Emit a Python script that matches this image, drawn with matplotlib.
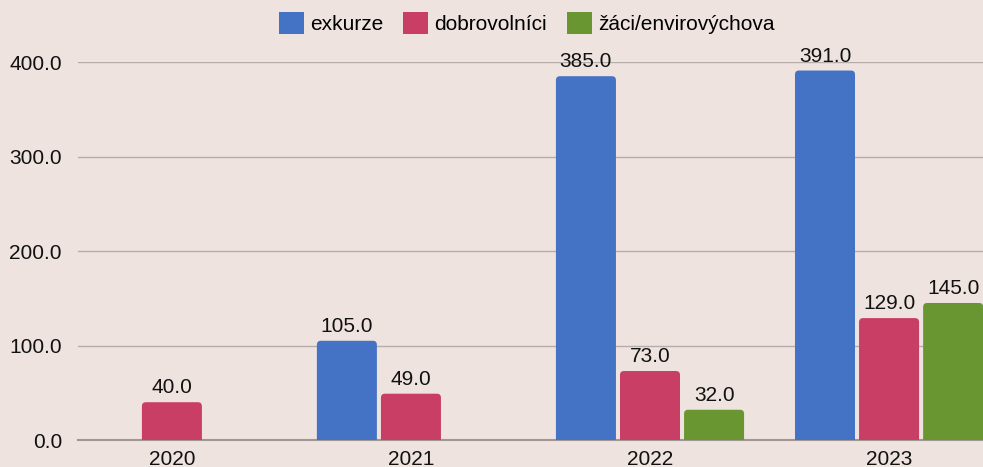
import matplotlib.pyplot as plt
from matplotlib.patches import FancyBboxPatch
import numpy as np

plt.rcParams['font.family'] = ['Liberation Sans', 'DejaVu Sans']

years = ["2020", "2021", "2022", "2023"]
exkurze = [0, 105, 385, 391]
dobrovolnici = [40, 49, 73, 129]
zaci = [0, 0, 32, 145]

series = [
    ("exkurze", exkurze, "#4472C4"),
    ("dobrovolníci", dobrovolnici, "#C83E65"),
    ("žáci/envirovýchova", zaci, "#6A9631"),
]

BG = "#EEE3DF"
fig = plt.figure(figsize=(9.83, 4.67), dpi=100, facecolor=BG)
ax = fig.add_axes([0.0793, 0.0578, 0.9207, 0.8094], facecolor=BG)

x = np.arange(len(years))
width = 0.251
offsets = [-0.268, 0, 0.268]

ax.set_xlim(-0.393, 3.393)
ax.set_ylim(0, 400)

# pixels per data unit, used to keep corners round
px_x = 905 / (3.393 + 0.393)
px_y = 378 / 400.0
aspect = px_x / px_y
r = 4 / px_x

for (name, vals, col), off in zip(series, offsets):
    for xi, v in zip(x, vals):
        if v == 0:
            continue
        left = xi + off - width / 2
        p = FancyBboxPatch((left + r, -20 + r * aspect), width - 2 * r, v + 20 - 2 * r * aspect,
                           boxstyle=f"round,pad={r},rounding_size={r}",
                           mutation_aspect=aspect, fc=col, ec="none", zorder=3)
        ax.add_patch(p)
        ax.text(xi + off, v + 5, f"{v:.1f}", ha="center", va="bottom",
                fontsize=15, color="#111111", zorder=4)

ax.set_yticks([0, 100, 200, 300, 400])
ax.set_yticklabels([f"{t:.1f}" for t in [0, 100, 200, 300, 400]])
ax.set_xticks(x)
ax.set_xticklabels(years)
ax.tick_params(axis="both", length=0, labelsize=15, colors="#111111")
ax.tick_params(axis="y", pad=11.5)
ax.tick_params(axis="x", pad=7)
ax.grid(axis="y", color="#B5ADAA", linewidth=1, zorder=0)
ax.set_axisbelow(True)
for s in ["top", "right", "left"]:
    ax.spines[s].set_visible(False)
ax.spines["bottom"].set_color("#9E9794")
ax.spines["bottom"].set_linewidth(1.5)
ax.spines["bottom"].set_zorder(2)

handles = [plt.Rectangle((0, 0), 1, 1, fc=c, ec="none") for _, _, c in series]
fig.legend(handles, [n for n, _, _ in series], loc="center", bbox_to_anchor=(0.536, 0.95),
           ncol=3, frameon=False, fontsize=15, handlelength=1.2, handleheight=1.2,
           handletextpad=0.3, columnspacing=0.95, borderpad=0)

fig.savefig("out.png", dpi=100, facecolor=BG)
